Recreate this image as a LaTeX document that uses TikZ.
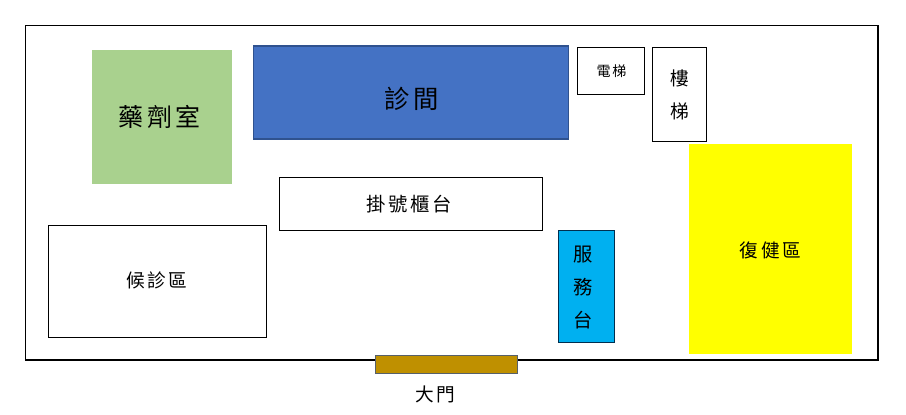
\documentclass[tikz,border=0pt]{standalone}
\usepackage{fontspec}
\usepackage{xcolor}
\newfontfamily\cjkfont[LetterSpace=14]{Noto Sans CJK TC}
\definecolor{dGreen}{HTML}{A9D18E}
\definecolor{dBlue}{HTML}{4472C4}
\definecolor{dBlueEdge}{HTML}{2F528F}
\definecolor{dCyan}{HTML}{00B0F0}
\definecolor{dCyanEdge}{HTML}{002F4F}
\definecolor{dYellow}{HTML}{FFFF00}
\definecolor{dGold}{HTML}{BF9000}
\definecolor{dGoldEdge}{HTML}{56606A}
\tikzset{
    room/.style 2 args={
            rectangle,
            inner sep=0pt, % no inside-rectangle
            outer sep=0pt,
            minimum width=#1*.75pt,
            minimum height=#2*.75pt
        },
    wall/.style={
            line width=.75pt,
            draw=black
        },
    sign/.style 2 args={
            font=\cjkfont\fontsize{#1}{#2}\selectfont,
            inner sep=0pt,
            align=center
        },
}
\begin{document}
\begin{tikzpicture}[
        x=.75pt,
        y=-.75pt,
    ]
    \useasboundingbox (0,0) rectangle (906,414);
    % outer wall
    \node[room={853}{334.5},draw=black,line width=.75pt] (plan) at (451.5,192.75) {};
    \draw[line width=1.7pt] (plan.south west) -- (plan.south east) -- (plan.north east);
    % coloured rooms
    \node[room={140}{134},fill=dGreen] (pharmacy) at (162,117) {};
    \node[room={315}{93},fill=dBlue,draw=dBlueEdge,line width=.9pt] (clinic) at (411,92.5) {};
    \node[room={163}{210},fill=dYellow] (rehab) at (770.5,249) {};
    \node[room={56}{112},fill=dCyan,draw=dCyanEdge,line width=.75pt] (service) at (586.5,286.5) {};
    \node[room={141.5}{18},fill=dGold,draw=dGoldEdge,line width=1pt] (door) at (446.5,364.5) {};
    % plain rooms
    \node[room={67.5}{47},wall] (lift) at (611,71) {};
    \node[room={54}{94},wall] (stairs) at (679.5,94.5) {};
    \node[room={263}{53},wall] (counter) at (411,204) {};
    \node[room={218}{112},wall] (waiting) at (157.5,281.5) {};
    % room names
    \node[sign={18.7}{24}] (pharmacytext) at (159.5,117) {藥劑室};
    \node[sign={19}{24}] (clinictext) at (412,99) {診間};
    \node[sign={14.5}{24}] (counterlabel) at (409.5,204) {掛號櫃台};
    \node[sign={14}{24}] (waitingtext) at (157,280) {候診區};
    \node[sign={10.5}{14}] (lifttext) at (611.5,71) {電梯};
    \node[sign={14}{25}] (stairstext) at (679.5,95) {樓\\梯};
    \node[sign={14.5}{25}] (servicetext) at (583.5,287.5) {服\\務\\台};
    \node[sign={14}{24}] (rehabtext) at (770.5,250) {復健區};
    \node[sign={14}{24}] (doortext) at (435.5,394) {大門};
\end{tikzpicture}
\end{document}
